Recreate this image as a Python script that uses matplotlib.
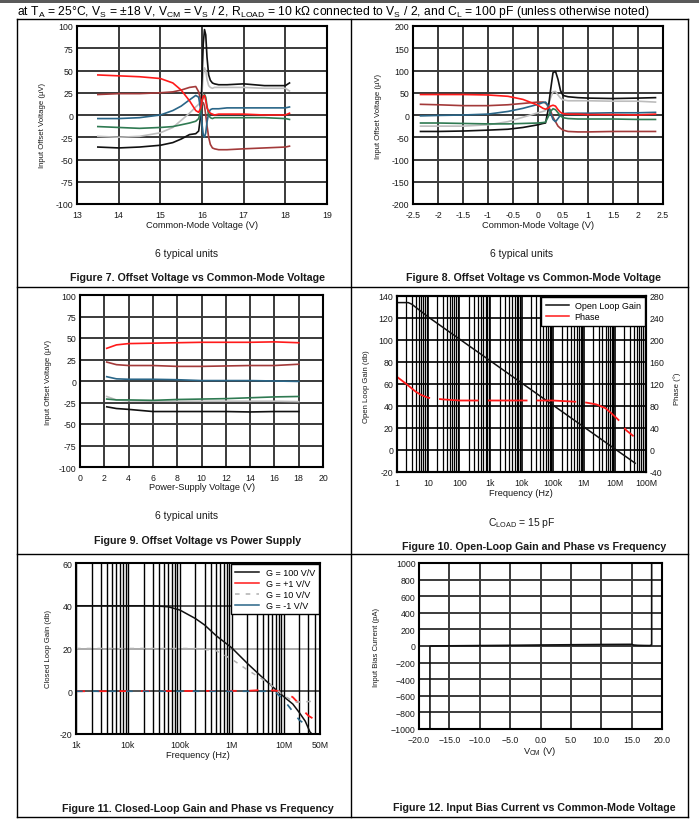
import matplotlib
matplotlib.use('Agg')
import matplotlib.pyplot as plt
from matplotlib.lines import Line2D
from matplotlib.patches import Rectangle
from matplotlib.ticker import FixedLocator, LogLocator, NullFormatter, FormatStrFormatter

plt.rcParams['font.family'] = ['Liberation Sans', 'DejaVu Sans']
plt.rcParams['axes.unicode_minus'] = False
plt.rcParams['mathtext.fontset'] = 'custom'
plt.rcParams['mathtext.rm'] = 'Liberation Sans'
plt.rcParams['mathtext.it'] = 'Liberation Sans:italic'
plt.rcParams['mathtext.bf'] = 'Liberation Sans:bold'

W, H = 699, 829

# ---- Figure 7 : offset voltage vs common-mode voltage (upper rail) ----
x7 = [13.5, 14.0, 14.5, 15.0, 15.3, 15.5, 15.7, 15.85, 15.92, 15.97, 16.0, 16.03, 16.06,
      16.09, 16.12, 16.16, 16.2, 16.25, 16.3, 16.4, 16.6, 17.0, 17.5, 18.0, 18.1]
f7_black = [-36, -37, -36, -34, -31, -27, -22, -21, -18, 0, 40, 80, 96,
            90, 65, 45, 39, 36, 35, 34, 34, 35, 33, 33, 36]
f7_gray = [-24, -25, -24, -20, -14, -6, 2, 9, 12, 14, 25, 45, 53,
           50, 40, 33, 31, 30, 31, 31, 31, 31, 30, 30, 27]
f7_red = [45, 44, 43, 41, 36, 28, 16, 5, 3, 8, 16, 21, 22,
          16, 8, 4, 2, 1, 0, 1, 1, 1, 0, 0, 2]
f7_brown = [23, 24, 24, 25, 26, 28, 31, 32, 26, 16, 12, 14, 10,
            0, -12, -25, -33, -37, -38, -39, -39, -38, -37, -36, -35]
f7_blue = [-4, -4, -3, 0, 5, 10, 17, 22, 20, 5, -10, -22, -25,
           -20, -8, 2, 6, 7, 7, 7, 8, 8, 8, 8, 9]
f7_green = [-13, -14, -15, -14, -13, -11, -9, -7, -4, 5, 15, 21, 23,
            20, 10, 0, -3, -4, -3, -3, -3, -3, -3, -4, -5]

# ---- Figure 8 : offset voltage vs common-mode voltage (around 0 V) ----
x8 = [-2.35, -2.0, -1.5, -1.0, -0.6, -0.3, 0.0, 0.1, 0.15, 0.2, 0.25, 0.3, 0.35, 0.4,
      0.45, 0.5, 0.6, 0.8, 1.0, 1.5, 2.0, 2.35]
f8_black = [-37, -37, -36, -34, -32, -28, -22, -19, -18, 10, 55, 95, 98, 80,
            55, 44, 41, 39, 38, 37, 38, 39]
f8_gray = [-25, -25, -25, -22, -15, -5, 5, 8, 10, 20, 38, 52, 53, 45,
           38, 34, 32, 32, 32, 31, 31, 29]
f8_red = [46, 46, 46, 45, 42, 35, 22, 15, 13, 15, 20, 22, 20, 12,
          6, 3, 2, 2, 1, 1, 0, 2]
f8_brown = [24, 23, 21, 21, 23, 26, 29, 29, 27, 20, 10, -5, -15, -25,
            -30, -34, -37, -38, -38, -37, -37, -37]
f8_blue = [-2, -1, 0, 2, 8, 15, 24, 28, 29, 22, 5, -10, -15, -8,
           0, 3, 4, 4, 4, 5, 5, 6]
f8_green = [-18, -18, -19, -20, -20, -19, -18, -17, -16, -5, 8, 14, 12, 5,
            -2, -6, -8, -9, -9, -9, -10, -10]

# ---- Figure 9 : offset voltage vs power supply ----
x9 = [2.2, 3, 4, 6, 8, 10, 12, 14, 16, 18]
f9_red = [38, 42, 43.5, 44, 44.5, 45, 45, 45, 45.5, 44.5]
f9_brown = [22, 19, 18, 18, 17, 17, 17.5, 18, 18, 19.5]
f9_blue = [5, 2.5, 2, 2, 1.5, 0.5, 0.5, 0.5, 0, -0.5]
f9_gray = [-18, -22, -23, -23.5, -23.5, -23.5, -23.5, -23.5, -23.5, -24]
f9_green = [-21, -22, -22, -22.5, -21.5, -21, -20.5, -19.5, -18.5, -18]
f9_black = [-30, -32, -33, -35.5, -35.5, -35.5, -35.5, -36, -35.5, -35.5]

# ---- Figure 10 : open-loop gain and phase ----
f10_freq = [1, 2.3, 3, 10, 100, 1e3, 1e4, 1e5, 1e6, 1e7, 4.5e7]
f10_gain = [134, 134, 132.5, 121, 101, 81, 61, 41, 21, 1, -12]
f10_ph_freq = [1, 2, 4, 6, 10, 30, 100, 1e3, 1e4, 1e5, 1e6, 2.5e6, 5e6, 8e6, 1.4e7, 2.3e7, 4e7]
f10_phase = [133, 120, 106, 100, 95, 92, 90, 90, 90, 90, 87, 83, 76, 66, 53, 36, 25]
f10_xticks = [1, 10, 100, 1e3, 1e4, 1e5, 1e6, 1e7, 1e8]
f10_xlabels = ['1', '10', '100', '1k', '10k', '100k', '1M', '10M', '100M']

# ---- Figure 11 : closed-loop gain ----
g100_f = [1e3, 1e4, 3e4, 6e4, 1e5, 2e5, 3e5, 5e5, 1e6, 2e6, 3e6, 5e6, 7.4e6, 1e7, 1.5e7,
          2e7, 2.6e7, 3.2e7, 3.5e7]
g100_v = [40, 40, 40, 39.5, 38, 34, 31, 26, 20.3, 13, 9, 4, 0.3, -2.5, -6, -10, -14, -19, -20]
g1_f = [1e3, 2e6, 4e6, 7e6, 1e7, 1.5e7, 2e7, 2.5e7, 3e7, 4e7, 5e7]
g1_v = [0, 0.2, 0.6, 0.3, -0.4, -2.8, -6, -9.5, -11.5, -13.3, -14]
g10_f = [1e3, 2e5, 5e5, 1e6, 2e6, 5e6, 1e7, 1.6e7, 2.4e7, 4e7]
g10_v = [20, 20, 19, 15, 10, 4, -2, -5, -5, -4.6]
gm1_f = [1e3, 5e6, 7e6, 1e7, 1.5e7, 2e7, 2.8e7, 3.2e7]
gm1_v = [0, 0, -0.5, -4, -9.5, -13.5, -16, -16.5]
f11_xticks = [1e3, 1e4, 1e5, 1e6, 1e7, 5e7]
f11_xlabels = ['1k', '10k', '100k', '1M', '10M', '50M']

# ---- Figure 12 : input bias current ----
x12 = [-18.2, -18.2, -18.0, -15, -10, -5, 0, 5, 10, 15, 15.3, 16, 17, 18, 18.1, 18.3, 18.3]
ib12 = [-1000, -5, 0, 2, 5, 8, 12, 15, 18, 20, 12, 8, 6, 5, 8, 15, 1000]
f12_xticks = [-20, -15, -10, -5, 0, 5, 10, 15, 20]
f12_yticks = [-1000, -800, -600, -400, -200, 0, 200, 400, 600, 800, 1000]

C_RED = '#ff1a1a'
C_BROWN = '#a33a3a'
C_BLUE = '#2a6688'
C_GREEN = '#2f7a52'
C_GRAY = '#bdbdbd'
C_BLACK = '#111111'
GRID = '#3a3a3a'
TXT = '#1a1a1a'
TICK_FS = 6.3
YLAB_FS = 5.6
XLAB_FS = 6.7
TITLE_FS = 7.7


def box(x0, y0, x1, y1):
    return [x0 / W, 1 - y1 / H, (x1 - x0) / W, (y1 - y0) / H]


def ftext(x, y, s, **kw):
    fig.text(x / W, 1 - y / H, s, ha='center', va='center', color=TXT, **kw)


def style(ax, grid=True):
    for sp in ax.spines.values():
        sp.set_linewidth(1.5)
        sp.set_color('black')
    ax.tick_params(length=0, labelsize=TICK_FS, labelcolor=TXT)
    ax.tick_params(axis='x', pad=4)
    ax.tick_params(axis='y', pad=2.5)
    if grid:
        ax.grid(True, color=GRID, lw=1.4)
    ax.set_axisbelow(True)


fig = plt.figure(figsize=(W / 100, H / 100), dpi=100)

# header bar and frame
fig.add_artist(Rectangle((0, 1 - 4 / H), 1, 4 / H, transform=fig.transFigure,
                         color='#5a5a5a', lw=0))
fig.text(17 / W, 1 - 12.5 / H,
         r'at T$_\mathrm{A}$ = 25°C, V$_\mathrm{S}$ = ±18 V, V$_\mathrm{CM}$ = V$_\mathrm{S}$ / 2, '
         r'R$_\mathrm{LOAD}$ = 10 kΩ connected to V$_\mathrm{S}$ / 2, and C$_\mathrm{L}$ = 100 pF '
         r'(unless otherwise noted)', ha='left', va='center', fontsize=8.7, color='black')
for (xa, ya, xb, yb) in [(17, 20, 688, 20), (17, 818, 688, 818), (17, 20, 17, 818),
                         (688, 20, 688, 818), (351, 20, 351, 818), (17, 288, 688, 288),
                         (17, 555, 688, 555)]:
    fig.add_artist(Line2D([xa / W, xb / W], [1 - ya / H, 1 - yb / H],
                          transform=fig.transFigure, color='black', lw=1.0))

units7 = [(f7_gray, C_GRAY), (f7_black, C_BLACK), (f7_brown, C_BROWN), (f7_blue, C_BLUE),
          (f7_green, C_GREEN), (f7_red, C_RED)]
units8 = [(f8_gray, C_GRAY), (f8_black, C_BLACK), (f8_brown, C_BROWN), (f8_blue, C_BLUE),
          (f8_green, C_GREEN), (f8_red, C_RED)]
units9 = [(f9_gray, C_GRAY), (f9_black, C_BLACK), (f9_brown, C_BROWN), (f9_blue, C_BLUE),
          (f9_green, C_GREEN), (f9_red, C_RED)]

# Figure 7
ax7 = fig.add_axes(box(77, 27, 327, 205))
for ys, c in units7:
    ax7.plot(x7, ys, color=c, lw=1.2)
ax7.set_xlim(13, 19)
ax7.set_ylim(-100, 100)
ax7.set_xticks(range(13, 20))
ax7.set_yticks(range(-100, 101, 25))
style(ax7)
ftext(202, 226, 'Common-Mode Voltage (V)', fontsize=XLAB_FS)
ftext(43, 125, 'Input Offset Voltage (µV)', fontsize=YLAB_FS, rotation=90)
ftext(187, 254, '6 typical units', fontsize=7.5)
ftext(198, 278, 'Figure 7. Offset Voltage vs Common-Mode Voltage', fontsize=TITLE_FS,
      fontweight='bold')

# Figure 8
ax8 = fig.add_axes(box(413, 27, 663, 205))
for ys, c in units8:
    ax8.plot(x8, ys, color=c, lw=1.2)
ax8.set_xlim(-2.5, 2.5)
ax8.set_ylim(-200, 200)
ax8.set_xticks([i * 0.5 - 2.5 for i in range(11)])
ax8.set_yticks(range(-200, 201, 50))
ax8.xaxis.set_major_formatter(FormatStrFormatter('%g'))
style(ax8)
ftext(538, 226, 'Common-Mode Voltage (V)', fontsize=XLAB_FS)
ftext(378, 116, 'Input Offset Voltage (µV)', fontsize=YLAB_FS, rotation=90)
ftext(522, 254, '6 typical units', fontsize=7.5)
ftext(534, 278, 'Figure 8. Offset Voltage vs Common-Mode Voltage', fontsize=TITLE_FS,
      fontweight='bold')

# Figure 9
ax9 = fig.add_axes(box(80, 296, 323, 468))
for ys, c in units9:
    ax9.plot(x9, ys, color=c, lw=1.2)
ax9.set_xlim(0, 20)
ax9.set_ylim(-100, 100)
ax9.set_xticks(range(0, 21, 2))
ax9.set_yticks(range(-100, 101, 25))
style(ax9)
ftext(202, 488, 'Power-Supply Voltage (V)', fontsize=XLAB_FS)
ftext(48, 382, 'Input Offset Voltage (µV)', fontsize=YLAB_FS, rotation=90)
ftext(187, 516, '6 typical units', fontsize=7.5)
ftext(198, 541, 'Figure 9. Offset Voltage vs Power Supply', fontsize=TITLE_FS,
      fontweight='bold')

# Figure 10
ax10 = fig.add_axes(box(397, 297, 646, 473))
ax10.set_xscale('log')
ax10.set_xlim(1, 1e8)
ax10.set_ylim(-20, 140)
ax10.set_yticks(range(-20, 141, 20))
ax10.xaxis.set_major_locator(FixedLocator(f10_xticks))
ax10.set_xticklabels(f10_xlabels)
ax10.xaxis.set_minor_locator(LogLocator(base=10, subs=range(2, 10), numticks=20))
ax10.xaxis.set_minor_formatter(NullFormatter())
style(ax10, grid=False)
ax10.grid(True, which='major', axis='both', color='black', lw=1.2)
ax10.grid(True, which='minor', axis='x', color='black', lw=0.9)
ax10.tick_params(which='minor', length=0)
ln1, = ax10.plot(f10_freq, f10_gain, color=C_BLACK, lw=1.1, label='Open Loop Gain')
ax10r = ax10.twinx()
ax10r.set_ylim(-40, 280)
ax10r.set_yticks(range(-40, 281, 40))
ax10r.tick_params(length=0, labelsize=TICK_FS, labelcolor=TXT, pad=2.5)
for sp in ax10r.spines.values():
    sp.set_linewidth(1.5)
ln2, = ax10r.plot(f10_ph_freq, f10_phase, color=C_RED, lw=1.3, dashes=(22, 5), label='Phase')
leg = ax10r.legend([ln1, Line2D([], [], color=C_RED, lw=1.1)], ['Open Loop Gain', 'Phase'],
                   loc='upper right', fontsize=6.5, frameon=True, fancybox=False,
                   borderaxespad=0.1, handlelength=2.6, borderpad=0.5, labelspacing=0.2,
                   handletextpad=0.6)
leg.get_frame().set_edgecolor('black')
leg.get_frame().set_linewidth(1.0)
leg.get_frame().set_alpha(1)
ftext(521, 494, 'Frequency (Hz)', fontsize=XLAB_FS)
ftext(366, 387, 'Open Loop Gain (db)', fontsize=YLAB_FS, rotation=90)
ftext(677, 389, 'Phase (°)', fontsize=YLAB_FS, rotation=90)
ftext(522, 523, r'C$_\mathrm{LOAD}$ = 15 pF', fontsize=7.5)
ftext(534, 547, 'Figure 10. Open-Loop Gain and Phase vs Frequency', fontsize=TITLE_FS,
      fontweight='bold')

# Figure 11
ax11 = fig.add_axes(box(76, 564, 320, 735))
ax11.set_xscale('log')
ax11.set_xlim(1e3, 5e7)
ax11.set_ylim(-20, 60)
ax11.set_yticks([-20, 0, 20, 40, 60])
ax11.xaxis.set_major_locator(FixedLocator(f11_xticks))
ax11.set_xticklabels(f11_xlabels)
ax11.xaxis.set_minor_locator(LogLocator(base=10, subs=range(2, 10), numticks=20))
ax11.xaxis.set_minor_formatter(NullFormatter())
style(ax11, grid=False)
ax11.grid(True, which='both', axis='x', color='black', lw=1.0)
ax11.axhline(40, color='#555555', lw=1.4, zorder=0.5)
ax11.axhline(20, color='#aaaaaa', lw=1.4, zorder=0.5)
ax11.axhline(0, color='#555555', lw=1.4, zorder=0.5)
ax11.tick_params(which='minor', length=0)
ax11.plot(g100_f, g100_v, color=C_BLACK, lw=1.1, label='G = 100 V/V')
ax11.plot(g1_f, g1_v, color=C_RED, lw=1.3, dashes=(5, 7), label='G = +1 V/V')
ax11.plot(g10_f, g10_v, color='#b0b0b0', lw=1.1, dashes=(3, 4), label='G = 10 V/V')
ax11.plot(gm1_f, gm1_v, color=C_BLUE, lw=1.2, dashes=(4, 6), label='G = -1 V/V')
handles = [Line2D([], [], color=C_BLACK, lw=1.1), Line2D([], [], color=C_RED, lw=1.1),
           Line2D([], [], color='#b0b0b0', lw=1.1, dashes=(3, 4)),
           Line2D([], [], color=C_BLUE, lw=1.1)]
leg = ax11.legend(handles, ['G = 100 V/V', 'G = +1 V/V', 'G = 10 V/V', 'G = -1 V/V'],
                  loc='upper right', fontsize=6.5, frameon=True, fancybox=False,
                  borderaxespad=0.1, handlelength=2.6, borderpad=0.45, labelspacing=0.22,
                  handletextpad=0.8)
leg.get_frame().set_edgecolor('black')
leg.get_frame().set_linewidth(1.0)
leg.get_frame().set_alpha(1)
ftext(198, 756, 'Frequency (Hz)', fontsize=XLAB_FS)
ftext(48, 649, 'Closed Loop Gain (db)', fontsize=YLAB_FS, rotation=90)
ftext(198, 809, 'Figure 11. Closed-Loop Gain and Phase vs Frequency', fontsize=TITLE_FS,
      fontweight='bold')

# Figure 12
ax12 = fig.add_axes(box(419, 564, 662, 730))
ax12.plot(x12, ib12, color=C_BLACK, lw=1.2)
ax12.set_xlim(-20, 20)
ax12.set_ylim(-1000, 1000)
ax12.set_xticks(f12_xticks)
ax12.set_xticklabels([f'{v:.1f}'.replace('-', '\u2212') for v in f12_xticks])
ax12.set_yticks(f12_yticks)
ax12.set_yticklabels([f'{v}'.replace('-', '\u2212') for v in f12_yticks])
style(ax12)
ftext(540, 752, r'V$_\mathrm{CM}$ (V)', fontsize=XLAB_FS)
ftext(377, 647, 'Input Bias Current (pA)', fontsize=YLAB_FS, rotation=90)
ftext(534, 808, 'Figure 12. Input Bias Current vs Common-Mode Voltage', fontsize=TITLE_FS,
      fontweight='bold')

fig.savefig('out.png', dpi=100)
